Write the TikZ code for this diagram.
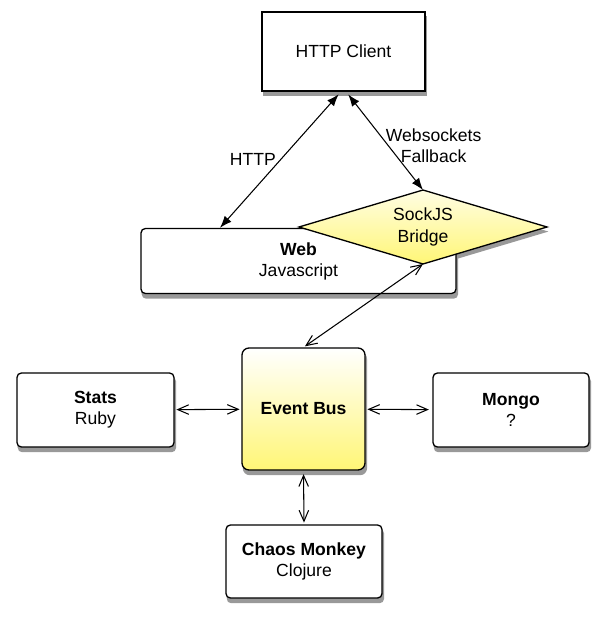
\documentclass[tikz,border=0pt]{standalone}
\usepackage{fontspec}
\setmainfont{Liberation Sans}
\usetikzlibrary{shapes.geometric,arrows.meta,backgrounds}

\definecolor{busyellow}{RGB}{255,246,118}
\tikzset{
  box/.style={draw, line width=0.75pt, fill=white, align=center, inner sep=0pt},
  roundbox/.style={box, rounded corners=2.5pt},
  hub/.style={roundbox, rounded corners=4pt, top color=white, bottom color=busyellow},
  bridgebox/.style={box, diamond, top color=busyellow!20!white, bottom color=busyellow,
    minimum width=4.96cm, minimum height=1.48cm, aspect=3.35, outer sep=0pt},
  shade box/.style={fill=black!40},
  solidlink/.style={line width=0.6pt, {Latex[length=2.4mm,width=1.8mm]}-{Latex[length=2.4mm,width=1.8mm]}},
  openlink/.style={line width=0.6pt, {Straight Barb[length=2.2mm,width=1.9mm]}-{Straight Barb[length=2.2mm,width=1.9mm]}}
}

\begin{document}
\begin{tikzpicture}
\useasboundingbox (0,0) rectangle (12.12,-12.42);

% top
\node[box, minimum width=3.26cm, minimum height=1.58cm] (client) at (6.87,-1.03) {HTTP Client};
\node[roundbox, minimum width=6.3cm, minimum height=1.3cm] (web) at (5.97,-5.22) {\textbf{Web}\\Javascript};
\node[bridgebox] (bridge) at (8.46,-4.54) {SockJS\\Bridge};

% middle row
\node[hub, minimum width=2.46cm, minimum height=2.44cm] (bus) at (6.07,-8.18) {\textbf{Event Bus}};
\node[roundbox, minimum width=3.14cm, minimum height=1.48cm] (stats) at (1.91,-8.2) {\textbf{Stats}\\Ruby};
\node[roundbox, minimum width=3.12cm, minimum height=1.48cm] (mongo) at (10.22,-8.2) {\textbf{Mongo}\\?};
\node[roundbox, minimum width=3.12cm, minimum height=1.46cm] (chaos) at (6.08,-11.23) {\textbf{Chaos Monkey}\\Clojure};

% shadows
\begin{scope}[on background layer]
\fill[shade box] ([xshift=0.8pt,yshift=-2.6pt]client.south west) rectangle ([xshift=0.8pt,yshift=-2.6pt]client.north east);
\foreach \n in {web,stats,mongo,chaos}
  \fill[shade box, rounded corners=2.5pt] ([xshift=0.8pt,yshift=-2.6pt]\n.south west) rectangle ([xshift=0.8pt,yshift=-2.6pt]\n.north east);
\fill[shade box, rounded corners=4pt] ([xshift=0.8pt,yshift=-2.6pt]bus.south west) rectangle ([xshift=0.8pt,yshift=-2.6pt]bus.north east);
\fill[shade box] ([xshift=0.8pt,yshift=-2.6pt]bridge.west) -- ([xshift=0.8pt,yshift=-2.6pt]bridge.north)
  -- ([xshift=0.8pt,yshift=-2.6pt]bridge.east) -- ([xshift=0.8pt,yshift=-2.6pt]bridge.south) -- cycle;
\end{scope}

% links
\draw[solidlink, shorten <=2pt] ([xshift=-0.5mm]client.south) -- node[left, pos=0.5, xshift=1pt] {HTTP} ([xshift=-1.57cm]web.north);
\draw[solidlink, shorten <=2pt] ([xshift=0.5mm]client.south) -- node[right, align=center, pos=0.55, xshift=-5pt] {Websockets\\Fallback} (bridge.north);
\draw[openlink, shorten >=1pt] (bridge.south) -- (bus.north);
\draw[openlink, shorten <=1pt, shorten >=1pt] (stats) -- (bus);
\draw[openlink, shorten <=1pt, shorten >=2pt] (bus) -- (mongo);
\draw[openlink, shorten <=2pt, shorten >=1pt] (bus.south) -- (chaos.north);

\end{tikzpicture}
\end{document}
